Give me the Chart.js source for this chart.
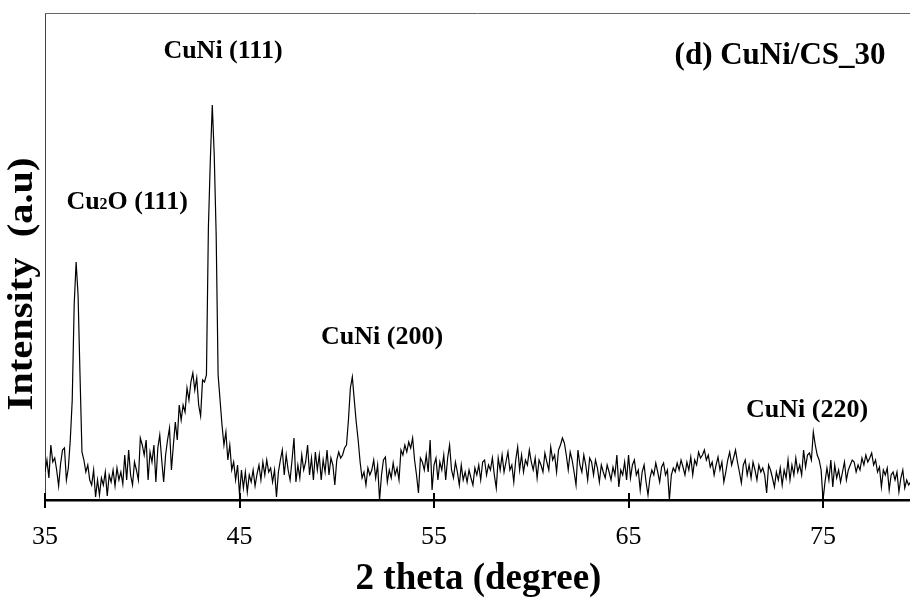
<!DOCTYPE html>
<html>
<head>
<meta charset="utf-8">
<script src="https://cdn.jsdelivr.net/npm/chart.js@4.4.0/dist/chart.umd.min.js"></script>
<style>
  html, body { margin: 0; padding: 0; background: #fff; }
  #xrd { display: block; }
</style>
</head>
<body>
<canvas id="xrd" width="910" height="598"></canvas>
<script>
// XRD pattern of CuNi/CS_30 (intensity in arbitrary units)
const START_ANGLE = 35.0;   // first 2 theta sample
const STEP = 0.1;           // sampling step in degrees
const X_MIN = 35, X_MAX = 79.47;
const Y_MAX = 487;

// one row per degree (35.x, 36.x, ...)
const intensity = [
  28, 40, 22, 55, 38, 42, 30, 14, 36, 50,          // 35
  52, 20, 32, 60, 100, 195, 238, 205, 125, 48,     // 36
  40, 28, 35, 20, 15, 30, 3, 20, 5, 22,            // 37
  15, 28, 4, 25, 18, 30, 14, 32, 20, 28,           // 38
  16, 45, 20, 50, 25, 15, 38, 30, 20, 62,          // 39
  55, 45, 60, 20, 48, 38, 55, 18, 52, 65,          // 40
  40, 18, 45, 60, 72, 30, 55, 78, 60, 95,          // 41
  80, 95, 88, 112, 100, 118, 127, 110, 122, 95,    // 42
  84, 120, 118, 125, 272, 340, 395, 345, 265, 125, // 43
  100, 75, 55, 68, 40, 55, 30, 38, 20, 35,         // 44
  5, 30, 12, 28, 8, 25, 18, 30, 14, 26,            // 45
  35, 20, 38, 25, 40, 28, 32, 18, 30, 3,           // 46
  28, 40, 50, 25, 45, 30, 20, 40, 62, 18,          // 47
  35, 22, 45, 30, 38, 55, 25, 42, 20, 48,          // 48
  30, 45, 20, 40, 28, 50, 25, 42, 35, 15,          // 49
  40, 48, 42, 45, 52, 55, 80, 112, 123, 100,       // 50
  78, 60, 38, 22, 28, 15, 32, 25, 30, 40,          // 51
  22, 35, 0, 25, 40, 43, 18, 30, 22, 37,           // 52
  25, 32, 20, 50, 45, 55, 48, 58, 52, 62,          // 53
  40, 25, 7, 42, 38, 30, 45, 28, 60, 10,           // 54
  35, 42, 20, 38, 30, 45, 20, 42, 55, 30,          // 55
  22, 38, 28, 15, 35, 20, 28, 18, 30, 22,          // 56
  15, 32, 25, 35, 20, 38, 40, 25, 35, 30,          // 57
  42, 25, 12, 42, 30, 45, 28, 38, 48, 30,          // 58
  35, 18, 40, 53, 30, 45, 28, 40, 35, 50,          // 59
  38, 30, 42, 22, 40, 35, 28, 47, 38, 30,          // 60
  53, 40, 45, 28, 50, 55, 62, 57, 45, 30,          // 61
  48, 40, 28, 15, 50, 35, 28, 45, 35, 20,          // 62
  42, 38, 25, 40, 32, 18, 35, 28, 22, 35,          // 63
  28, 20, 33, 25, 45, 13, 30, 25, 38, 20,          // 64
  45, 22, 35, 40, 25, 30, 10, 28, 35, 18,          // 65
  5, 22, 30, 25, 37, 28, 18, 33, 37, 25,           // 66
  30, 0, 25, 32, 28, 37, 30, 40, 33, 25,           // 67
  38, 30, 43, 25, 40, 35, 48, 42, 45, 50,          // 68
  40, 45, 33, 38, 25, 35, 43, 30, 38, 18,          // 69
  28, 40, 48, 35, 42, 50, 38, 28, 17, 35,          // 70
  40, 25, 35, 22, 38, 30, 20, 35, 28, 32,          // 71
  25, 7, 35, 30, 22, 13, 28, 20, 32, 15,           // 72
  30, 22, 40, 20, 35, 25, 42, 28, 35, 25,          // 73
  50, 33, 45, 47, 40, 68, 55, 45, 40, 30,          // 74
  0, 18, 32, 20, 40, 13, 35, 22, 30, 18,           // 75
  28, 38, 20, 30, 35, 40, 38, 28, 35, 30,          // 76
  42, 35, 45, 38, 42, 47, 35, 40, 28, 33,          // 77
  13, 30, 25, 32, 10, 25, 28, 20, 28, 8,           // 78
  22, 30, 12, 20, 15, 18                           // 79
];

const tickValues = [35, 45, 55, 65, 75];

// peak labels: text, 2 theta, intensity position
const labelText = ['CuNi (111)', 'Cu2O (111)', 'CuNi (200)', 'CuNi (220)'];
const labelX = [44.15, 39.22, 52.33, 74.18];
const labelY = [451, 300, 165, 92];

const sampleName = '(d) CuNi/CS_30';
const sampleX = 72.79, sampleY = 446;

const xTitle = '2 theta (degree)';
const yTitle = 'Intensity  (a.u)';

const points = intensity.map((v, i) => ({ x: +(START_ANGLE + i * STEP).toFixed(2), y: v }));

const SERIF = '"Liberation Serif", "Times New Roman", serif';

// draws Cu2O with a small 2
function drawLabel(ctx, text, cx, cy, size) {
  ctx.textBaseline = 'alphabetic';
  ctx.textAlign = 'left';
  const big = 'bold ' + size + 'px ' + SERIF;
  const small = 'bold ' + Math.round(size * 0.62) + 'px ' + SERIF;
  let parts;
  if (text.indexOf('Cu2O') === 0) {
    parts = [['Cu', big], ['2', small], [text.slice(3), big]];
  } else {
    parts = [[text, big]];
  }
  let w = 0;
  parts.forEach(p => { ctx.font = p[1]; w += ctx.measureText(p[0]).width; });
  let x = cx - w / 2;
  const base = cy + size * 0.33;
  parts.forEach(p => {
    ctx.font = p[1];
    ctx.fillText(p[0], x, base);
    x += ctx.measureText(p[0]).width;
  });
}

const frame = {
  id: 'frame',
  afterDraw(chart) {
    const ctx = chart.ctx;
    const a = chart.chartArea;
    const xs = chart.scales.x;
    const ys = chart.scales.y;
    ctx.save();
    // top border
    ctx.strokeStyle = '#666';
    ctx.lineWidth = 1;
    ctx.beginPath();
    ctx.moveTo(a.left, a.top + 0.5);
    ctx.lineTo(a.right, a.top + 0.5);
    ctx.stroke();
    // tick marks crossing the x axis
    ctx.strokeStyle = '#000';
    ctx.lineWidth = 2;
    xs.ticks.forEach(t => {
      const px = Math.round(xs.getPixelForValue(t.value));
      ctx.beginPath();
      ctx.moveTo(px, a.bottom - 7);
      ctx.lineTo(px, a.bottom + 8);
      ctx.stroke();
    });
    // peak labels
    ctx.fillStyle = '#000';
    labelText.forEach((t, i) => {
      drawLabel(ctx, t, xs.getPixelForValue(labelX[i]), ys.getPixelForValue(labelY[i]), 26);
    });
    drawLabel(ctx, sampleName, xs.getPixelForValue(sampleX), ys.getPixelForValue(sampleY), 31);

    // axis titles
    ctx.textAlign = 'center';
    ctx.textBaseline = 'middle';
    ctx.font = 'bold 37px ' + SERIF;
    ctx.fillText(xTitle, (a.left + a.right) / 2 + 1, 579);

    ctx.font = 'bold 35px ' + SERIF;
    const len = ctx.measureText(yTitle).width;
    ctx.translate(23, 284);
    ctx.rotate(-Math.PI / 2);
    ctx.scale(253 / len, 1);
    ctx.fillText(yTitle, 0, 0);
    ctx.restore();
  }
};

new Chart(document.getElementById('xrd'), {
  type: 'line',
  data: {
    datasets: [{
      data: points,
      borderColor: '#000',
      borderWidth: 1.2,
      pointRadius: 0,
      tension: 0,
      fill: false
    }]
  },
  options: {
    responsive: false,
    animation: false,
    layout: { padding: { top: 13, right: 0, left: 0, bottom: 0 } },
    plugins: { legend: { display: false }, tooltip: { enabled: false } },
    scales: {
      x: {
        type: 'linear',
        min: X_MIN,
        max: X_MAX,
        afterBuildTicks: s => { s.ticks = tickValues.map(v => ({ value: v })); },
        afterFit: s => { s.height = 98; },
        grid: { display: false, drawTicks: false },
        border: { display: true, color: '#000', width: 2.5 },
        ticks: {
          color: '#000',
          padding: 22,
          maxRotation: 0,
          font: { family: SERIF, size: 26 }
        }
      },
      y: {
        min: 0,
        max: Y_MAX,
        afterFit: s => { s.width = 45; },
        grid: { display: false, drawTicks: false },
        border: { display: true, color: '#444', width: 1 },
        ticks: { display: false }
      }
    }
  },
  plugins: [frame]
});
</script>
</body>
</html>
